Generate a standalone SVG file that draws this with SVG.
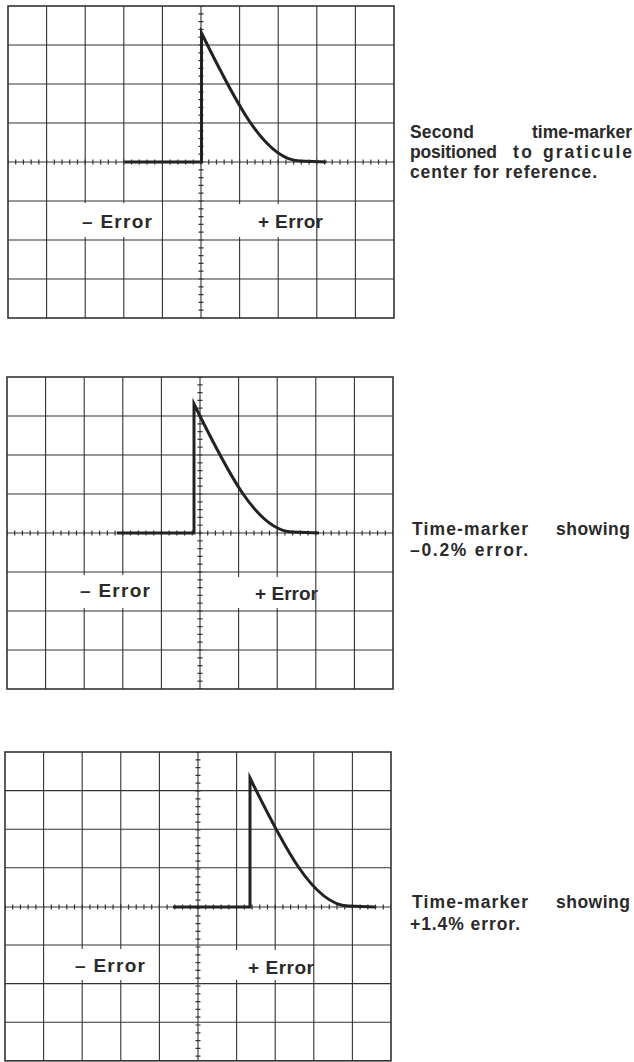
<svg xmlns="http://www.w3.org/2000/svg" width="634" height="1062" viewBox="0 0 634 1062">
<style>
.bg{fill:#fff}
.border{fill:none;stroke:#333;stroke-width:1.6}
.grid{fill:none;stroke:#333;stroke-width:1.1}
.tickh{fill:none;stroke:#333;stroke-width:5;stroke-dasharray:1.2 6.52}
.tickv{fill:none;stroke:#333;stroke-width:5;stroke-dasharray:1.2 6.6}
.axis{fill:none;stroke:#333;stroke-width:1.1}
.trace{fill:none;stroke:#222;stroke-width:3;stroke-linejoin:miter;stroke-miterlimit:20}
.mask{fill:#fff}
.lbl{font-family:"Liberation Sans",Arial,sans-serif;font-weight:bold;font-size:19px;fill:#2a2a2a}
.cap{font-family:"Liberation Sans",Arial,sans-serif;font-weight:bold;font-size:17.5px;fill:#2a2a2a}
</style>
<defs>
<path id="pulse" class="trace" d="M-77,0 L0,0 L0,-129 C33,-62 63,-2 98,-1 L125,0"/>
</defs>
<rect class="bg" x="0" y="0" width="634" height="1062"/>

<g id="panel1">
  <rect class="border" x="8" y="6" width="386" height="312"/>
  <path class="grid" d="M46.6,6V318M85.2,6V318M123.8,6V318M162.4,6V318M239.6,6V318M278.2,6V318M316.8,6V318M355.4,6V318M8,45H394M8,84H394M8,123H394M8,201H394M8,240H394M8,279H394"/>
  <path class="axis" d="M8,162H394M201,6V318"/>
  <path class="tickh" d="M8,162H394" stroke-dashoffset="0.6"/>
  <path class="tickv" d="M201,6V318" stroke-dashoffset="0.6"/>
  <rect class="mask" x="68" y="203" width="94" height="34"/>
  <rect class="mask" x="208" y="204" width="105" height="33"/>
  <text class="lbl" x="82" y="228" textLength="70" lengthAdjust="spacing">– Error</text>
  <text class="lbl" x="258" y="228" textLength="65" lengthAdjust="spacing">+ Error</text>
  <use href="#pulse" x="201.5" y="162"/>
</g>
<g id="caption1">
  <text class="cap" x="410" y="138" textLength="64" lengthAdjust="spacing">Second</text>
  <text class="cap" x="532" y="138" textLength="100" lengthAdjust="spacing">time-marker</text>
  <text class="cap" x="410" y="158" textLength="87" lengthAdjust="spacing">positioned</text>
  <text class="cap" x="513" y="158" textLength="19" lengthAdjust="spacing">to</text>
  <text class="cap" x="543" y="158" textLength="89" lengthAdjust="spacing">graticule</text>
  <text class="cap" x="410" y="178" textLength="187" lengthAdjust="spacing">center for reference.</text>
</g>

<g id="panel2">
  <rect class="border" x="7" y="377" width="386" height="312"/>
  <path class="grid" d="M45.6,377V689M84.2,377V689M122.8,377V689M161.4,377V689M238.6,377V689M277.2,377V689M315.8,377V689M354.4,377V689M7,416H393M7,455H393M7,494H393M7,572H393M7,611H393M7,650H393"/>
  <path class="axis" d="M7,533H393M200,377V689"/>
  <path class="tickh" d="M7,533H393" stroke-dashoffset="0.6"/>
  <path class="tickv" d="M200,377V689" stroke-dashoffset="0.6"/>
  <rect class="mask" x="66" y="575" width="94" height="33"/>
  <rect class="mask" x="206" y="577" width="105" height="31"/>
  <text class="lbl" x="80" y="597" textLength="70" lengthAdjust="spacing">– Error</text>
  <text class="lbl" x="255" y="600" textLength="63" lengthAdjust="spacing">+ Error</text>
  <use href="#pulse" x="194" y="533"/>
</g>
<g id="caption2">
  <text class="cap" x="412" y="535" textLength="116" lengthAdjust="spacing">Time-marker</text>
  <text class="cap" x="556" y="535" textLength="74" lengthAdjust="spacing">showing</text>
  <text class="cap" x="410" y="556" textLength="118" lengthAdjust="spacing">–0.2% error.</text>
</g>

<g id="panel3">
  <rect class="border" x="5" y="752" width="386" height="308.8"/>
  <path class="grid" d="M43.6,752V1060.8M82.2,752V1060.8M120.8,752V1060.8M159.4,752V1060.8M236.6,752V1060.8M275.2,752V1060.8M313.8,752V1060.8M352.4,752V1060.8M5,790.6H391M5,829.2H391M5,867.8H391M5,945H391M5,983.6H391M5,1022.2H391"/>
  <path class="axis" d="M5,907H391M198,752V1060.8"/>
  <path class="tickh" d="M5,907H391" stroke-dashoffset="0.6"/>
  <path class="tickv" d="M198,752V1060.8" stroke-dashoffset="0.6"/>
  <rect class="mask" x="61" y="949" width="94" height="31"/>
  <rect class="mask" x="204" y="950" width="105" height="30"/>
  <text class="lbl" x="75" y="972" textLength="70" lengthAdjust="spacing">– Error</text>
  <text class="lbl" x="248" y="974" textLength="66" lengthAdjust="spacing">+ Error</text>
  <use href="#pulse" x="250" y="907"/>
</g>
<g id="caption3">
  <text class="cap" x="412" y="908" textLength="116" lengthAdjust="spacing">Time-marker</text>
  <text class="cap" x="556" y="908" textLength="74" lengthAdjust="spacing">showing</text>
  <text class="cap" x="410" y="930" textLength="110" lengthAdjust="spacing">+1.4% error.</text>
</g>
</svg>
